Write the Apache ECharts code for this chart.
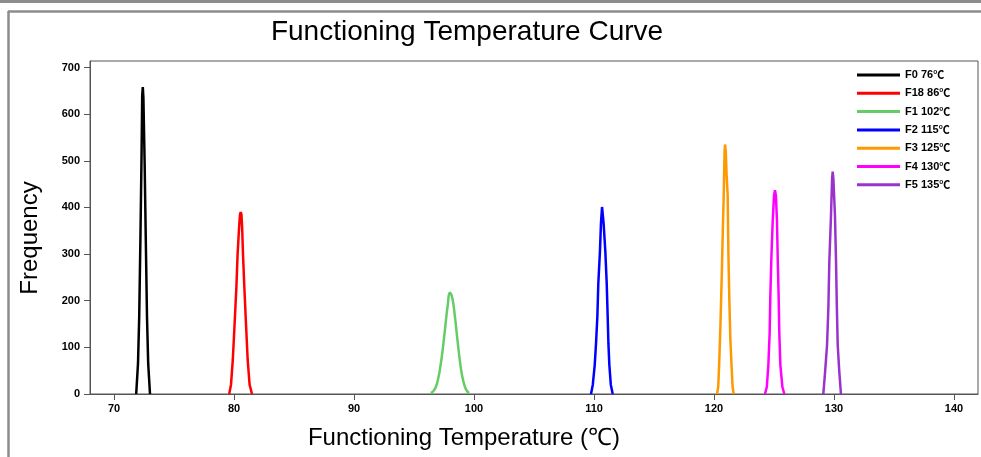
<!DOCTYPE html>
<html>
<head>
<meta charset="utf-8">
<script src="https://cdn.jsdelivr.net/npm/echarts@6/dist/echarts.min.js"></script>
<style>
html,body{margin:0;padding:0;background:#fff;}
#chart{width:981px;height:457px;}
</style>
</head>
<body>
<div id="chart"></div>
<script>
const seriesNames = ['F0 76\u2103','F18 86\u2103','F1 102\u2103','F2 115\u2103','F3 125\u2103','F4 130\u2103','F5 135\u2103'];
const seriesColors = ['#000000','#ff0000','#66cc66','#0000ff','#ff9900','#ff00ff','#9933cc'];

const f0X = [71.85, 72.0, 72.1, 72.2, 72.3, 72.35, 72.4, 72.45, 72.55, 72.65, 72.75, 72.85, 73.0];
const f0Y = [0, 65, 165, 330, 520, 640, 658, 635, 500, 330, 165, 65, 0];

const f18X = [79.6, 79.75, 79.9, 80.05, 80.2, 80.3, 80.42, 80.5, 80.56, 80.62, 80.68, 80.75, 80.86, 81.0, 81.14, 81.3, 81.5];
const f18Y = [0, 20, 73, 150, 230, 300, 355, 385, 390, 385, 355, 300, 230, 150, 73, 20, 0];

const f1X = [96.4, 96.6, 96.8, 97.0, 97.2, 97.4, 97.6, 97.8, 98.0, 98.2, 98.4, 98.6, 98.8, 99.0, 99.2, 99.4, 99.6];
const f1Y = [2, 6, 14, 31, 59, 97, 143, 188, 217, 205, 168, 121, 76, 41, 19, 7, 2];

const f2X = [109.75, 109.9, 110.06, 110.17, 110.28, 110.36, 110.5, 110.58, 110.67, 110.8, 110.94, 111.06, 111.14, 111.2, 111.28, 111.4, 111.56];
const f2Y = [0, 20, 62, 109, 166, 237, 308, 366, 401, 366, 308, 237, 166, 109, 62, 20, 0];

const f3X = [120.25, 120.35, 120.42, 120.53, 120.64, 120.75, 120.81, 120.88, 120.92, 120.98, 121.05, 121.14, 121.2, 121.28, 121.36, 121.47, 121.55, 121.64];
const f3Y = [0, 15, 56, 141, 248, 366, 426, 520, 535, 520, 470, 426, 300, 200, 120, 56, 15, 0];

const f4X = [124.25, 124.4, 124.53, 124.64, 124.69, 124.78, 124.89, 125.0, 125.08, 125.16, 125.25, 125.31, 125.39, 125.44, 125.53, 125.7, 125.86];
const f4Y = [0, 15, 62, 133, 205, 291, 369, 425, 437, 425, 369, 291, 205, 133, 62, 15, 0];

const f5X = [129.11, 129.26, 129.42, 129.53, 129.61, 129.75, 129.84, 129.89, 129.95, 130.08, 130.17, 130.24, 130.31, 130.44, 130.58];
const f5Y = [0, 48, 105, 184, 283, 383, 460, 477, 460, 383, 283, 184, 105, 48, 0];

const xTicks = [70, 80, 90, 100, 110, 120, 130, 140];
const yTicks = [0, 100, 200, 300, 400, 500, 600, 700];

const titleText = 'Functioning Temperature Curve';
const xAxisName = 'Functioning Temperature (\u2103)';
const yAxisName = 'Frequency';

const allX = [f0X, f18X, f1X, f2X, f3X, f4X, f5X];
const allY = [f0Y, f18Y, f1Y, f2Y, f3Y, f4Y, f5Y];

const chart = echarts.init(document.getElementById('chart'), null, {renderer: 'canvas'});

const series = seriesNames.map((name, i) => ({
  name: name,
  type: 'line',
  data: allX[i].map((x, k) => [x, allY[i][k]]),
  showSymbol: false,
  smooth: i === 2,
  lineStyle: {color: seriesColors[i], width: 2.5},
  itemStyle: {color: seriesColors[i]},
  animation: false
}));

const FONT = 'Arial, "Liberation Sans", sans-serif';

chart.setOption({
  animation: false,
  backgroundColor: '#ffffff',
  graphic: [
    {type: 'rect', shape: {x: 0, y: 0, width: 981, height: 3}, style: {fill: '#8c8c8c'}, silent: true},
    {type: 'line', shape: {x1: 8, y1: 11.5, x2: 981, y2: 11.5}, style: {stroke: '#8c8c8c', lineWidth: 2.5}, silent: true},
    {type: 'line', shape: {x1: 8.5, y1: 11, x2: 8.5, y2: 457}, style: {stroke: '#8c8c8c', lineWidth: 2.5}, silent: true},
    {type: 'text', x: 467, y: 32.5, silent: true,
     style: {text: titleText, fontFamily: FONT, fontSize: 28, fill: '#000', textAlign: 'center', textVerticalAlign: 'middle'}},
    {type: 'text', x: 464, y: 438.5, silent: true,
     style: {text: xAxisName, fontFamily: FONT, fontSize: 24, fill: '#000', textAlign: 'center', textVerticalAlign: 'middle'}},
    {type: 'text', x: 30, y: 238, rotation: Math.PI / 2, silent: true,
     style: {text: yAxisName, fontFamily: FONT, fontSize: 24, fill: '#000', textAlign: 'center', textVerticalAlign: 'middle'}}
  ],
  legend: {
    orient: 'vertical',
    left: 857, top: 69.5,
    padding: 0,
    icon: 'rect',
    itemWidth: 43, itemHeight: 3,
    itemGap: 7.3,
    formatter: function (name) { return name.replace('\u2103', '{c|\u2103}'); },
    textStyle: {
      fontFamily: FONT, fontSize: 11, fontWeight: 'bold', color: '#000',
      rich: {c: {fontFamily: '"Noto Sans CJK SC"', fontSize: 11, fontWeight: 'bold', color: '#000'}}
    },
    data: seriesNames
  },
  grid: {
    left: 90, right: 3, top: 61, bottom: 63,
    outerBoundsMode: 'none',
    containLabel: false,
    show: true, borderColor: '#555', borderWidth: 1
  },
  xAxis: {
    type: 'value', min: 68, max: 142,
    axisLine: {show: true, onZero: false, lineStyle: {color: '#555', width: 1}},
    axisTick: {show: true, inside: false, length: 6, lineStyle: {color: '#555'}, customValues: xTicks},
    axisLabel: {customValues: xTicks, fontFamily: FONT, fontSize: 11, fontWeight: 'bold', color: '#000', margin: 9},
    splitLine: {show: false}
  },
  yAxis: {
    type: 'value', min: 0, max: 714,
    axisLine: {show: true, lineStyle: {color: '#555', width: 1}},
    axisTick: {show: true, inside: false, length: 6, lineStyle: {color: '#555'}, customValues: yTicks},
    axisLabel: {customValues: yTicks, fontFamily: FONT, fontSize: 11, fontWeight: 'bold', color: '#000', margin: 10},
    splitLine: {show: false}
  },
  series: series
});
</script>
</body>
</html>
